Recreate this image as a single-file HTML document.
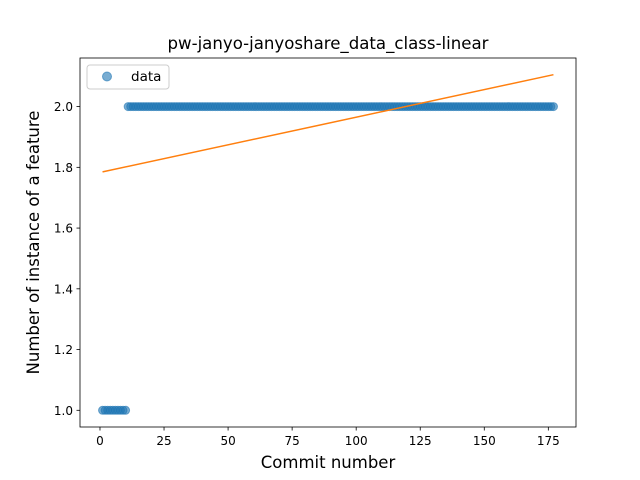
<!DOCTYPE html>
<html><head><meta charset="utf-8"><style>
body{margin:0;background:#fff}
svg{display:block;font-family:"DejaVu Sans","Liberation Sans",sans-serif}
</style></head><body>
<svg id="chart" width="640" height="480" viewBox="0 0 640 480">
<rect width="640" height="480" fill="#fff"/>
<text x="328" y="49" text-anchor="middle" font-size="16.6">pw-janyo-janyoshare_data_class-linear</text>
<g id="marks"></g>
<rect x="80" y="58" width="496" height="369" fill="none" stroke="#000" stroke-width="0.8"/>
<g id="axes"></g>
<text x="328" y="468" text-anchor="middle" font-size="16.5">Commit number</text>
<text transform="translate(39,242.5) rotate(-90)" text-anchor="middle" font-size="16.5">Number of instance of a feature</text>
<g>
<rect x="87" y="65" width="82" height="24" rx="3" fill="#fff" fill-opacity="0.8" stroke="#ccc"/>
<circle cx="107" cy="76.5" r="4.5" fill="#1f77b4" fill-opacity="0.6" stroke="#1f77b4" stroke-opacity="0.6"/>
<text x="131" y="81" font-size="13.5">data</text>
</g>
</svg>
<script>
const xTicks=[0,25,50,75,100,125,150,175];
const yTicks=[1.0,1.2,1.4,1.6,1.8,2.0];
const lowCount=10;
const totalCount=177;
const lowValue=1;
const highValue=2;
const fitStart=[1,1.785];
const fitEnd=[177,2.105];
const X0=80,X1=576,Y0=58,Y1=427;
const xmin=-7.8,xmax=185.8,ymin=0.945,ymax=2.16;
const sx=v=>X0+(v-xmin)/(xmax-xmin)*(X1-X0);
const sy=v=>Y1-(v-ymin)/(ymax-ymin)*(Y1-Y0);
const NS="http://www.w3.org/2000/svg";
const marks=document.getElementById('marks'),axes=document.getElementById('axes');
function mk(t,a,p){const e=document.createElementNS(NS,t);for(const k in a)e.setAttribute(k,a[k]);p.appendChild(e);return e;}
for(let i=1;i<=totalCount;i++){
 const y=i<=lowCount?lowValue:highValue;
 const c=mk('circle',{cx:sx(i),cy:sy(y),r:4,fill:'#1f77b4','fill-opacity':0.6,stroke:'#1f77b4','stroke-opacity':0.6,'stroke-width':1},marks);
 
 
}
const ln=mk('line',{x1:sx(fitStart[0]),y1:sy(fitStart[1]),x2:sx(fitEnd[0]),y2:sy(fitEnd[1]),stroke:'#ff7f0e','stroke-width':1.5},marks);


xTicks.forEach(t=>{
 const x=sx(t);
 const l=mk('line',{x1:x,x2:x,y1:Y1,y2:Y1+3.5,stroke:'#000','stroke-width':0.8},axes);
 
 
 const tx=mk('text',{x:x,y:Y1+18,'text-anchor':'middle','font-size':12},axes);
 tx.textContent=t;
 
 
});
yTicks.forEach(t=>{
 const y=sy(t);
 const l=mk('line',{x1:X0-3.5,x2:X0,y1:y,y2:y,stroke:'#000','stroke-width':0.8},axes);
 
 
 const tx=mk('text',{x:X0-7,y:y+4.5,'text-anchor':'end','font-size':12},axes);
 tx.textContent=t.toFixed(1);
 
 
});
</script>
</body></html>
